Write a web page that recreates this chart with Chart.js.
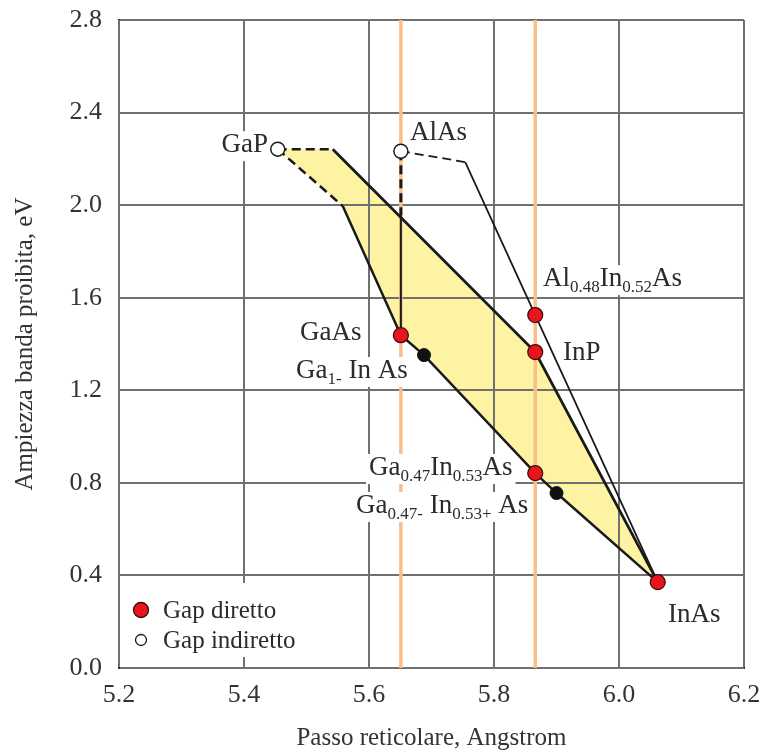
<!DOCTYPE html>
<html>
<head>
<meta charset="utf-8">
<script src="https://cdn.jsdelivr.net/npm/chart.js@4/dist/chart.umd.min.js"></script>
<style>
  html, body { margin: 0; padding: 0; background: #fff; }
  #wrap { width: 761px; height: 754px; }
</style>
</head>
<body>
<div id="wrap"><canvas id="chart" width="761" height="754"></canvas></div>
<script>
// axis ranges and ticks
const X_MIN = 5.2, X_MAX = 6.2, X_STEP = 0.2;
const Y_MIN = 0, Y_MAX = 2.8, Y_STEP = 0.4;

// compounds with direct gap (lattice constant in Angstrom, gap in eV)
const directX = [5.651, 5.866, 5.866, 5.866, 6.062];
const directY = [1.438, 1.365, 1.525, 0.842, 0.371];
// compounds with indirect gap: GaP, AlAs
const indirectX = [5.454, 5.651];
const indirectY = [2.242, 2.233];
// intermediate alloys (black dots)
const alloyX = [5.688, 5.900];
const alloyY = [1.352, 0.756];

// GaInAsP region boundaries
const upperDashX = [5.454, 5.542];
const upperDashY = [2.242, 2.242];
const upperX = [5.542, 5.866, 6.062];
const upperY = [2.242, 1.365, 0.371];
const lowerDashX = [5.454, 5.558];
const lowerDashY = [2.242, 1.996];
const lowerX = [5.558, 5.651, 5.688, 5.866, 5.900, 6.062];
const lowerY = [1.996, 1.438, 1.352, 0.842, 0.756, 0.371];

// AlAs lines
const alasVertDashX = [5.651, 5.651];
const alasVertDashY = [2.233, 1.957];
const alasVertX = [5.651, 5.651];
const alasVertY = [1.957, 1.438];
const alasInasDashX = [5.651, 5.754];
const alasInasDashY = [2.233, 2.186];
const alasInasX = [5.754, 5.866, 6.062];
const alasInasY = [2.186, 1.525, 0.371];

// lattice matched to GaAs and InP (orange lines)
const matchX = [5.651, 5.866];

const legendLabels = ['Gap diretto', 'Gap indiretto'];

// text labels: [text, isSubscript]
const labelParts = [
  [['GaP', false]],
  [['AlAs', false]],
  [['GaAs', false]],
  [['Ga', false], ['1-', true], [' In As', false]],
  [['Al', false], ['0.48', true], ['In', false], ['0.52', true], ['As', false]],
  [['InP', false]],
  [['Ga', false], ['0.47', true], ['In', false], ['0.53', true], ['As', false]],
  [['Ga', false], ['0.47-', true], [' In', false], ['0.53+', true], [' As', false]],
  [['InAs', false]],
];
const labelX = [5.4384, 5.6656, 5.4896, 5.4832, 5.8784, 5.9104, 5.600, 5.5792, 6.0784];
const labelY = [2.229, 2.281, 1.417, 1.253, 1.650, 1.330, 0.834, 0.670, 0.199];
const labelAlign = ['right', 'left', 'left', 'left', 'left', 'left', 'left', 'left', 'left'];

const pts = (xs, ys) => xs.map((x, i) => ({ x, y: ys[i] }));

const RED = '#e8141e';
const INK = '#1a1a1a';
const FONT = '"Liberation Serif", "Times New Roman", serif';

const polygon = [
  ...pts(upperDashX, upperDashY),
  ...pts(upperX, upperY).slice(1),
  ...pts(lowerX, lowerY).reverse().slice(1),
  ...pts(lowerDashX, lowerDashY).reverse().slice(1),
];

const lineSet = (data, width, dashed, order) => ({
  type: 'scatter',
  data,
  showLine: true,
  borderColor: INK,
  borderWidth: width,
  borderDash: dashed ? [9, 5] : [],
  pointRadius: 0,
  fill: false,
  order,
});

const datasets = [
  {
    type: 'scatter', label: legendLabels[0], data: pts(directX, directY),
    pointRadius: 7.5, pointBackgroundColor: RED, pointBorderColor: '#3a0a0a', pointBorderWidth: 1.2, order: 1,
  },
  {
    type: 'scatter', label: legendLabels[1], data: pts(indirectX, indirectY),
    pointRadius: 7, pointBackgroundColor: '#fff', pointBorderColor: INK, pointBorderWidth: 1.5, order: 1,
  },
  {
    type: 'scatter', label: 'alloy', data: pts(alloyX, alloyY),
    pointRadius: 6.5, pointBackgroundColor: '#111', pointBorderColor: '#111', pointBorderWidth: 1, order: 1,
  },
  lineSet(pts(upperDashX, upperDashY), 2.5, true, 4),
  lineSet(pts(upperX, upperY), 2.8, false, 4),
  lineSet(pts(lowerDashX, lowerDashY), 2.5, true, 4),
  lineSet(pts(lowerX, lowerY), 2.5, false, 4),
  lineSet(pts(alasVertDashX, alasVertDashY), 3, true, 4),
  lineSet(pts(alasVertX, alasVertY), 2, false, 4),
  lineSet(pts(alasInasDashX, alasInasDashY), 1.8, true, 4),
  lineSet(pts(alasInasX, alasInasY), 1.8, false, 4),
  {
    type: 'scatter', data: [{ x: matchX[0], y: Y_MIN }, { x: matchX[0], y: Y_MAX }], showLine: true,
    borderColor: '#f9bf86', borderWidth: 3.5, pointRadius: 0, order: 8,
  },
  {
    type: 'scatter', data: [{ x: matchX[1], y: Y_MIN }, { x: matchX[1], y: Y_MAX }], showLine: true,
    borderColor: '#f9bf86', borderWidth: 3.5, pointRadius: 0, order: 7, labelsAfter: true,
  },
  {
    type: 'scatter', data: polygon, showLine: true, borderWidth: 0, pointRadius: 0,
    backgroundColor: '#fdf3a2', fill: 'shape', order: 10, gridAfter: true,
  },
];

function drawRich(ctx, parts, x, y, align) {
  const main = '27px ' + FONT, sub = '17px ' + FONT;
  let w = 0;
  parts.forEach(([t, s]) => { ctx.font = s ? sub : main; w += ctx.measureText(t).width; });
  let left = align === 'right' ? x - w : x;
  ctx.fillStyle = '#fff';
  ctx.fillRect(left - 3, y - 21, w + 6, 30);
  ctx.fillStyle = '#2b2b2b';
  ctx.textBaseline = 'alphabetic';
  ctx.textAlign = 'left';
  parts.forEach(([t, s]) => {
    ctx.font = s ? sub : main;
    ctx.fillText(t, left, s ? y + 6 : y);
    left += ctx.measureText(t).width;
  });
}

const overlay = {
  id: 'overlay',
  afterDatasetDraw(chart, args) {
    const ds = chart.data.datasets[args.index];
    const ctx = chart.ctx;
    if (ds.gridAfter) {
      chart.scales.x.drawGrid(chart.chartArea);
      chart.scales.y.drawGrid(chart.chartArea);
    }
    if (ds.labelsAfter) {
      const xs = chart.scales.x, ys = chart.scales.y;
      ctx.save();
      labelParts.forEach((parts, i) => {
        drawRich(ctx, parts, xs.getPixelForValue(labelX[i]), ys.getPixelForValue(labelY[i]), labelAlign[i]);
      });
      ctx.restore();
    }
  },
  afterDatasetsDraw(chart) {
    const ctx = chart.ctx;
    const a = chart.chartArea;
    ctx.save();
    ctx.fillStyle = '#fff';
    ctx.fillRect(a.left + 6, a.bottom - 85, 240, 74);
    const items = [
      { r: 7.5, fill: RED, stroke: '#3a0a0a' },
      { r: 5.5, fill: '#fff', stroke: INK },
    ];
    items.forEach((it, i) => {
      const cy = a.bottom - 58 + i * 30;
      ctx.beginPath();
      ctx.arc(a.left + 22, cy, it.r, 0, Math.PI * 2);
      ctx.fillStyle = it.fill;
      ctx.fill();
      ctx.lineWidth = 1.3;
      ctx.strokeStyle = it.stroke;
      ctx.stroke();
      ctx.font = '25px ' + FONT;
      ctx.fillStyle = '#2b2b2b';
      ctx.textAlign = 'left';
      ctx.textBaseline = 'alphabetic';
      ctx.fillText(legendLabels[i], a.left + 44, cy + 8);
    });
    ctx.restore();
  },
};

Chart.defaults.font.family = FONT;
Chart.defaults.color = '#333';

new Chart(document.getElementById('chart'), {
  type: 'scatter',
  data: { datasets },
  plugins: [overlay],
  options: {
    responsive: false,
    animation: false,
    layout: { padding: { top: 20, right: 17, left: 0, bottom: 0 } },
    plugins: { legend: { display: false }, tooltip: { enabled: false } },
    scales: {
      x: {
        type: 'linear', min: X_MIN, max: X_MAX,
        afterFit(scale) { scale.height = 86; scale.paddingLeft = 0; scale.paddingRight = 0; },
        ticks: { stepSize: X_STEP, padding: 12, font: { size: 26 }, callback: v => v.toFixed(1) },
        grid: { color: '#707070', lineWidth: 2, drawTicks: false },
        border: { color: '#333', width: 2 },
        title: { display: true, text: 'Passo reticolare, Angstrom', font: { size: 25 }, padding: { bottom: 1 } },
      },
      y: {
        type: 'linear', min: Y_MIN, max: Y_MAX,
        afterFit(scale) { scale.width = 119; scale.paddingTop = 0; scale.paddingBottom = 0; },
        ticks: { stepSize: Y_STEP, padding: 17, font: { size: 26 }, callback: v => v.toFixed(1) },
        grid: { color: '#707070', lineWidth: 2, drawTicks: false },
        border: { color: '#333', width: 2 },
        title: { display: true, text: 'Ampiezza banda proibita, eV', font: { size: 25 }, padding: { top: 10 } },
      },
    },
  },
});
</script>
</body>
</html>
